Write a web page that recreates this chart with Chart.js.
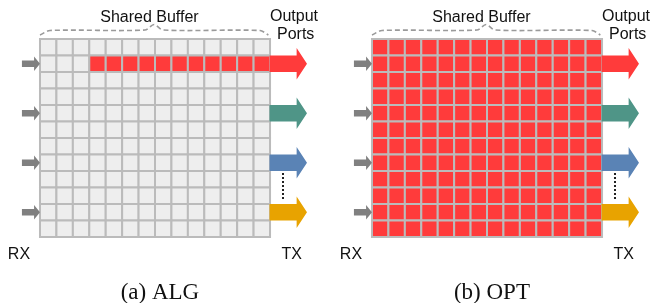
<!DOCTYPE html>
<html>
<head>
<meta charset="utf-8">
<script src="https://cdn.jsdelivr.net/npm/chart.js@4/dist/chart.umd.min.js"></script>
<style>
  body { margin: 0; background: #fff; }
  .wrap { position: relative; width: 652px; height: 303px; overflow: hidden; }
  canvas { position: absolute; top: 0; }
  #alg { left: 0; }
  #opt { left: 332px; }
</style>
</head>
<body>
<div class="wrap">
  <canvas id="alg" width="320" height="303"></canvas>
  <canvas id="opt" width="320" height="303"></canvas>
</div>
<script>
// buffer size (cells)
const rows = 12;
const cols = 14;

// ports sit on these buffer rows
const inputRows = [1, 4, 7, 10];
const outputRows = [1, 4, 7, 10];
const portColors = ["#FF3B3B", "#4F9587", "#5A83B5", "#E8A300"];

// packets held in each row, counted from the TX side
const algQueue = [0, 11, 0, 0, 0, 0, 0, 0, 0, 0, 0, 0];
const optQueue = [14, 14, 14, 14, 14, 14, 14, 14, 14, 14, 14, 14];

const titles = ["(a) ALG", "(b) OPT"];

// dashed brace over the buffer, in cell units
const braceX = [0, 0.61, 6.39, 6.94, 7.49, 13.39, 13.9];
const braceY = [-0.24, -0.515, -0.545, -0.88, -0.545, -0.515, -0.24];

const filledColor = "#FF3B3B";
const emptyColor = "#EEEEEE";

const outArrow = (r) => [
  { x: 13.97, y: r },
  { x: 15.62, y: r },
  { x: 15.62, y: r - 0.45 },
  { x: 16.25, y: r + 0.5 },
  { x: 15.62, y: r + 1.45 },
  { x: 15.62, y: r + 1 },
  { x: 13.97, y: r + 1 },
];

const inArrow = (r) => [
  { x: -1.1, y: r + 0.3 },
  { x: -0.36, y: r + 0.3 },
  { x: -0.36, y: r + 0.06 },
  { x: 0, y: r + 0.5 },
  { x: -0.36, y: r + 0.94 },
  { x: -0.36, y: r + 0.7 },
  { x: -1.1, y: r + 0.7 },
];

const makeChart = function (id, queue, title) {
  const cells = [];
  const cellColors = [];
  for (let r = 0; r < rows; r++) {
    for (let c = 0; c < cols; c++) {
      cells.push({ x: c + 0.5, y: r + 0.5 });
      cellColors.push(c >= cols - queue[r] ? filledColor : emptyColor);
    }
  }

  const datasets = [
    {
      type: "scatter",
      data: cells,
      pointStyle: "rect",
      pointRadius: 11.63,
      pointBackgroundColor: cellColors,
      pointBorderColor: "#BBBBBB",
      pointBorderWidth: 2,
      order: 5,
    },
    {
      type: "line",
      data: braceX.map((x, i) => ({ x, y: braceY[i] })),
      borderColor: "#9A9A9A",
      borderWidth: 1.6,
      borderDash: [5, 3],
      tension: 0.3,
      pointRadius: 0,
      fill: false,
      order: 4,
    },
    {
      type: "line",
      data: [
        { x: 14.79, y: 8.12 },
        { x: 14.79, y: 9.78 },
      ],
      borderColor: "#222",
      borderWidth: 2,
      borderDash: [2, 2],
      pointRadius: 0,
      fill: false,
      order: 4,
    },
  ];

  inputRows.forEach((r) => {
    datasets.push({
      type: "line",
      data: inArrow(r),
      backgroundColor: "#808080",
      borderWidth: 0,
      pointRadius: 0,
      tension: 0,
      fill: "shape",
      order: 1,
    });
  });
  outputRows.forEach((r, i) => {
    datasets.push({
      type: "line",
      data: outArrow(r),
      backgroundColor: portColors[i],
      borderWidth: 0,
      pointRadius: 0,
      tension: 0,
      fill: "shape",
      order: 1,
    });
  });

  const sans = '16px "Liberation Sans", Arial, sans-serif';
  const labels = [
    { text: "Shared Buffer", x: 6.66, y: -1.03, font: sans },
    { text: "Output", x: 15.46, y: -1.09, font: sans },
    { text: "Ports", x: 15.56, y: 0.0, font: sans },
    { text: "RX", x: -1.28, y: 13.33, font: sans },
    { text: "TX", x: 15.32, y: 13.33, font: sans },
    { text: title, x: 7.3, y: 15.76, font: '23px "Liberation Serif", "Times New Roman", serif' },
  ];

  const textPlugin = {
    id: "panelText",
    afterDatasetsDraw(chart) {
      const ctx = chart.ctx;
      const xs = chart.scales.x;
      const ys = chart.scales.y;
      ctx.save();
      ctx.fillStyle = "#111";
      ctx.textAlign = "center";
      ctx.textBaseline = "alphabetic";
      labels.forEach((l) => {
        ctx.font = l.font;
        ctx.fillText(l.text, xs.getPixelForValue(l.x), ys.getPixelForValue(l.y));
      });
      ctx.restore();
    },
  };

  return new Chart(document.getElementById(id), {
    type: "scatter",
    data: { datasets },
    options: {
      responsive: false,
      animation: false,
      devicePixelRatio: 1,
      events: [],
      layout: { padding: 0, autoPadding: false },
      scales: {
        x: { type: "linear", display: false, min: -2.4346, max: 17.042 },
        y: { type: "linear", display: false, reverse: true, min: -2.3636, max: 16.0 },
      },
      plugins: {
        legend: { display: false },
        tooltip: { enabled: false },
      },
    },
    plugins: [textPlugin],
  });
};

makeChart("alg", algQueue, titles[0]);
makeChart("opt", optQueue, titles[1]);
</script>
</body>
</html>
